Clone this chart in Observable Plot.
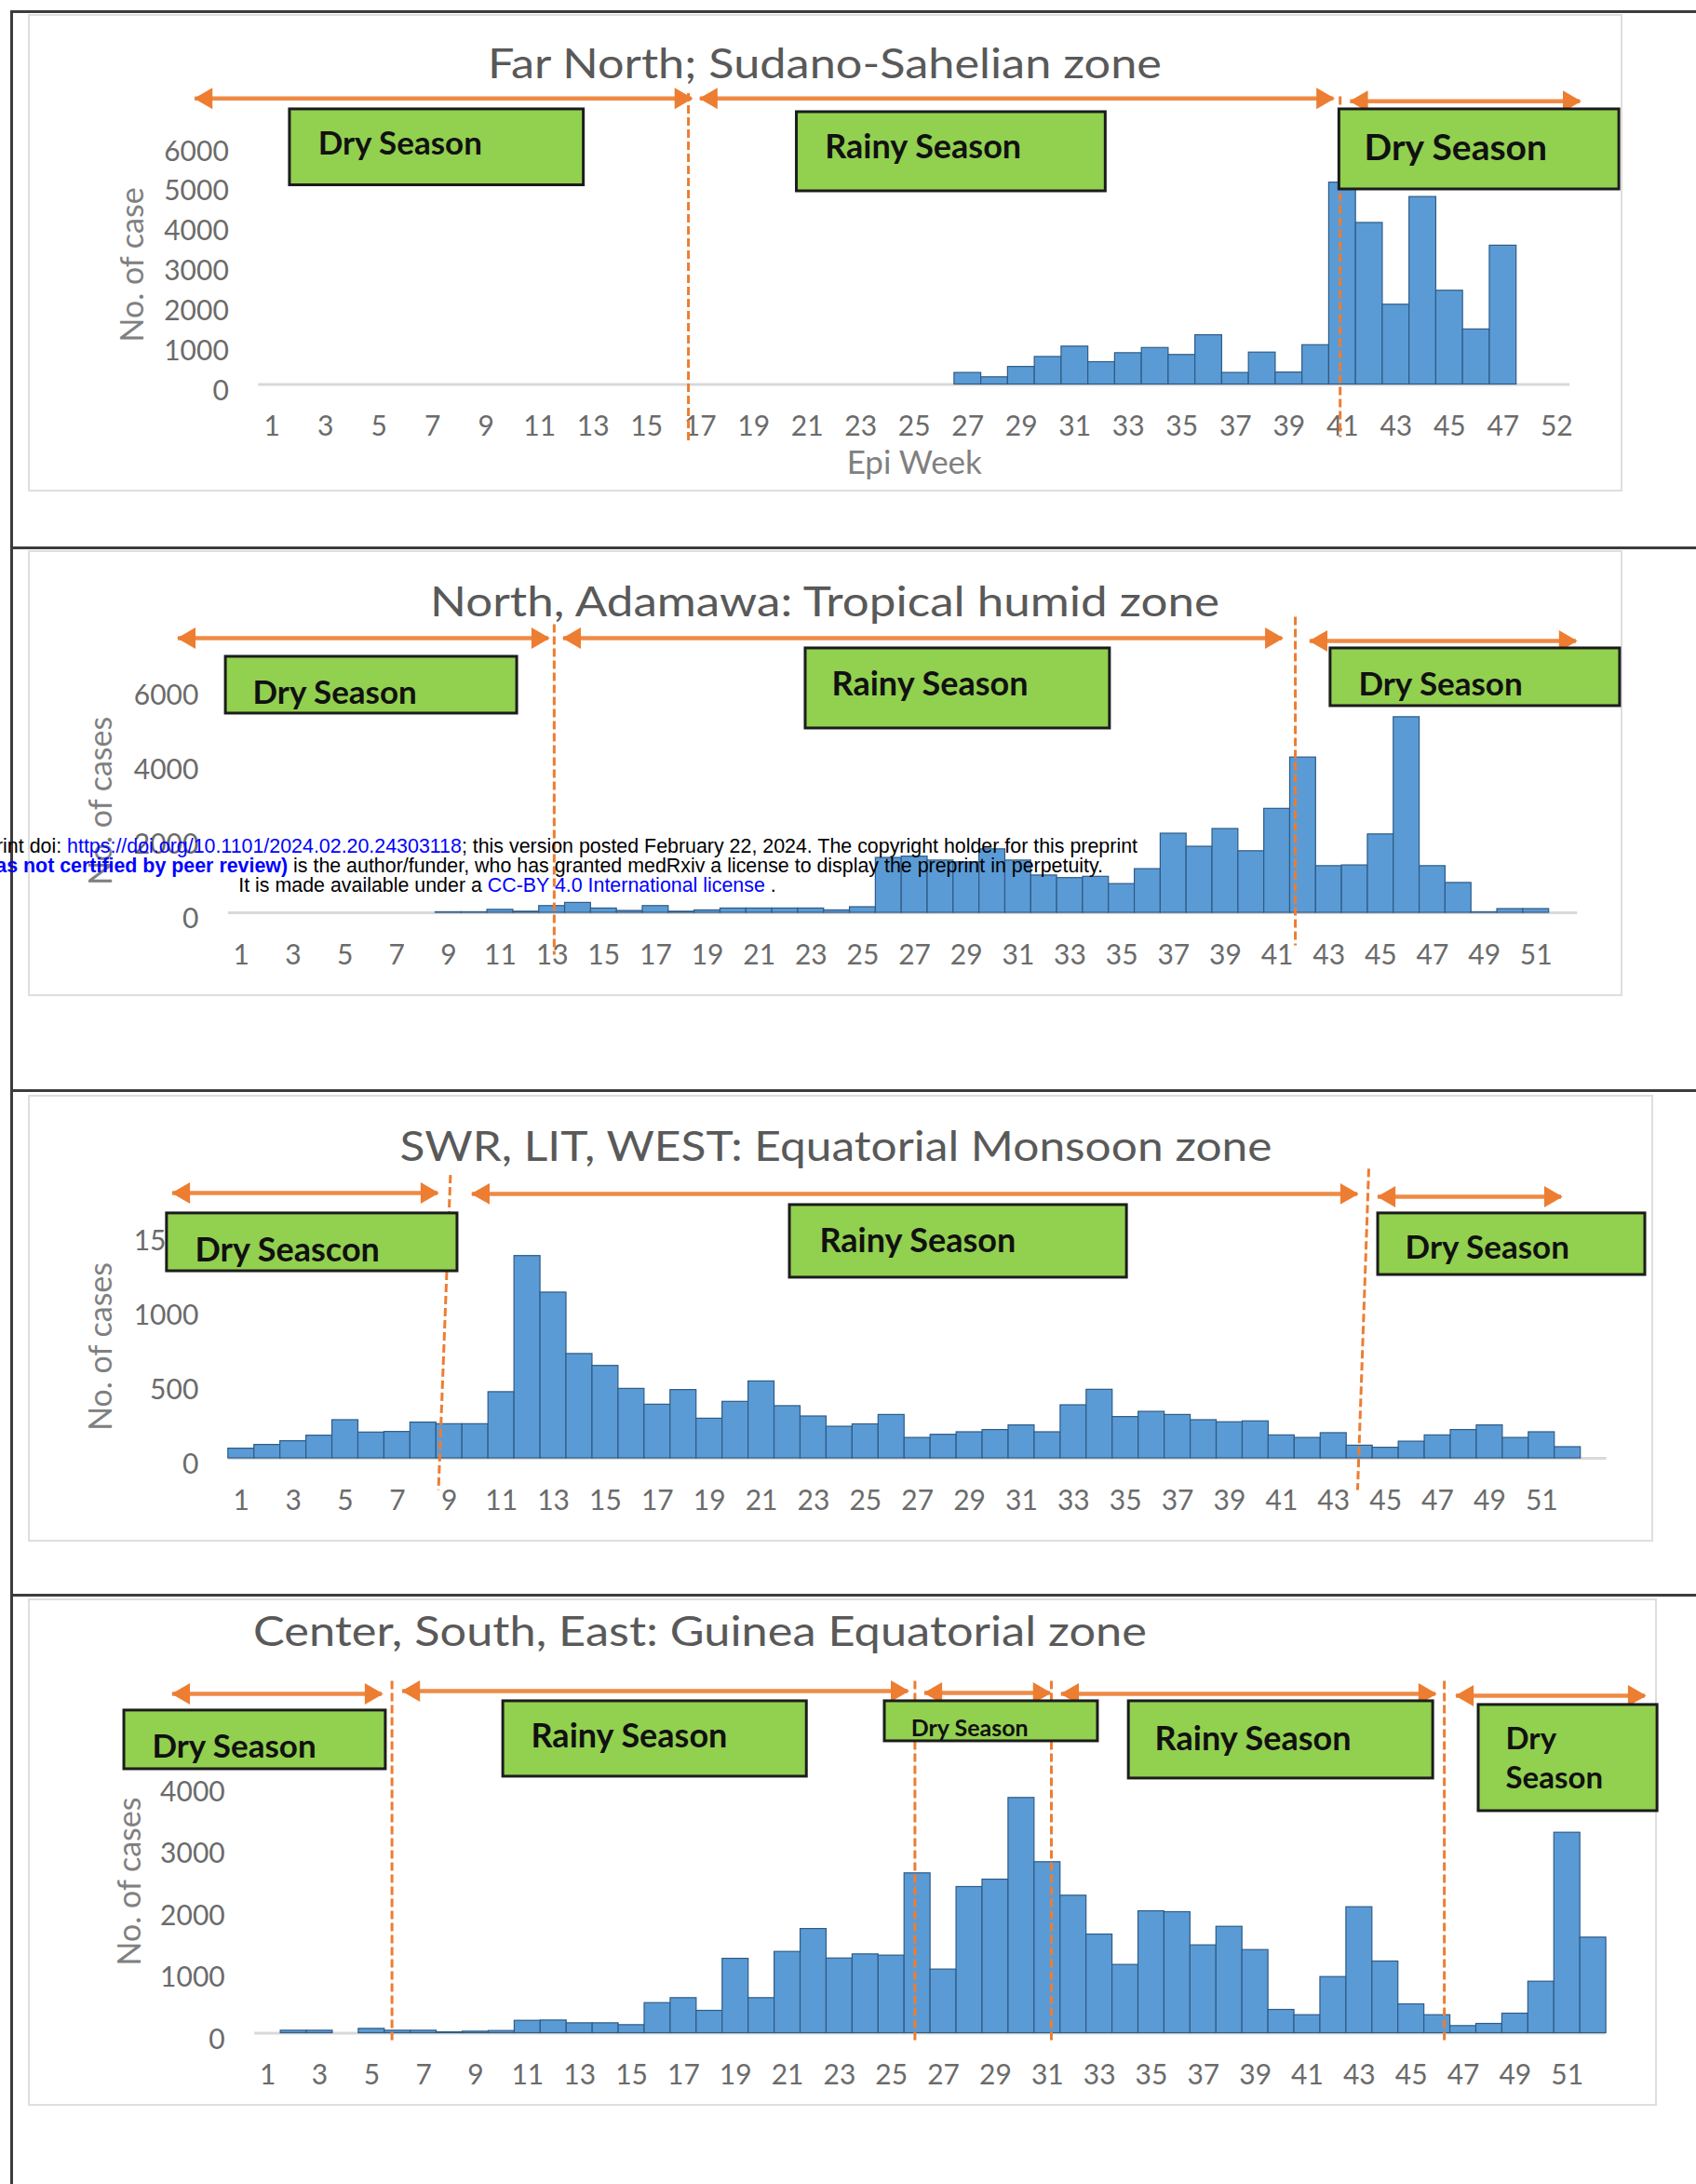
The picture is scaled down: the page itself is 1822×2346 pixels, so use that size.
<!DOCTYPE html>
<html>
<head>
<meta charset="utf-8">
<script src="https://cdn.jsdelivr.net/npm/d3@7"></script>
<script src="https://cdn.jsdelivr.net/npm/@observablehq/plot@0.6"></script>
<style>
html, body { margin: 0; padding: 0; background: #fff; }
#page { position: relative; width: 1822px; height: 2346px; overflow: hidden; background: #fff; font-family: Lato, sans-serif; }
.hline { position: absolute; left: 11px; right: 0; height: 3px; background: #3c3c3c; }
.vline { position: absolute; left: 11px; top: 11px; bottom: 0; width: 3px; background: #3c3c3c; }
.panel { position: absolute; border: 2px solid #dedede; box-sizing: border-box; }
.title { position: absolute; white-space: nowrap; color: #595959; font-family: Lato, sans-serif; font-size: 44px; line-height: 1; }
.wm { position: absolute; width: 2000px; text-align: center; font-family: "Liberation Sans", Arial, sans-serif; font-size: 21.4px; line-height: 21px; color: #000; white-space: nowrap; }
.wm .b { color: #0000ff; }
.wm .bb { color: #0000ff; font-weight: bold; }
</style>
</head>
<body>
<div id="page">
  <div class="vline"></div>
  <div class="hline" style="top:11px"></div>
  <div class="hline" style="top:587px"></div>
  <div class="hline" style="top:1170px"></div>
  <div class="hline" style="top:1712px"></div>
  <div class="panel" style="left:30px;top:15px;width:1713px;height:513px"></div>
  <div class="panel" style="left:30px;top:591px;width:1713px;height:479px"></div>
  <div class="panel" style="left:30px;top:1176px;width:1746px;height:480px"></div>
  <div class="panel" style="left:30px;top:1717px;width:1750px;height:545px"></div>
</div>
<script>
// ---------------- DATA ----------------
// Panel 1: Far North; Sudano-Sahelian zone (categories as printed on the axis)
const farNorthWeeks = [1,2,3,4,5,6,7,8,9,10,11,12,13,14,15,16,17,18,19,20,21,22,23,24,25,26,27,28,29,30,31,32,33,34,35,36,37,38,39,40,41,42,43,44,45,46,47,48,52];
const farNorthCases = [0,0,0,0,0,0,0,0,0,0,0,0,0,0,0,0,0,0,0,0,0,0,0,0,0,0,290,180,440,690,950,560,785,915,740,1235,290,800,300,985,5060,4050,2000,4700,2350,1380,3480,0,0];
const farNorthTickLabels = ["1","3","5","7","9","11","13","15","17","19","21","23","25","27","29","31","33","35","37","39","41","43","45","47","52"];
const farNorthYTicks = [0,1000,2000,3000,4000,5000,6000];

// Weeks 1..52 for the three other zones
const epiWeeks = [1,2,3,4,5,6,7,8,9,10,11,12,13,14,15,16,17,18,19,20,21,22,23,24,25,26,27,28,29,30,31,32,33,34,35,36,37,38,39,40,41,42,43,44,45,46,47,48,49,50,51,52];
const oddWeekTicks = [1,3,5,7,9,11,13,15,17,19,21,23,25,27,29,31,33,35,37,39,41,43,45,47,49,51];

// Panel 2: North, Adamawa: Tropical humid zone
const northCases = [0,0,0,0,0,0,0,0,15,15,80,30,180,265,115,50,180,30,65,115,115,115,115,65,150,1470,1505,1400,1350,1700,1400,1000,930,965,770,1170,2120,1770,2245,1650,2785,4160,1250,1270,2100,5240,1250,800,15,100,100,0];
const northYTicks = [0,2000,4000,6000];

// Panel 3: SWR, LIT, WEST: Equatorial Monsoon zone
const monsoonCases = [65,90,115,152,256,173,177,240,229,229,444,1357,1112,700,620,466,360,458,266,379,516,350,281,212,228,291,137,158,175,190,221,175,356,460,277,312,291,256,242,248,154,137,169,85,71,112,154,190,221,137,175,75];
const monsoonYTicks = [0,500,1000,1500];

// Panel 4: Center, South, East: Guinea Equatorial zone
const guineaCases = [0,40,40,0,70,40,40,15,25,35,200,205,160,160,130,486,566,361,1202,566,1313,1683,1207,1273,1253,2582,1028,2361,2481,3800,2762,2221,1594,1103,1970,1955,1419,1719,1343,376,291,907,2035,1158,466,291,115,150,316,832,3238,1544];
const guineaYTicks = [0,1000,2000,3000,4000];

// Season annotations (in week units / case units of each panel)
const farNorthBounds = [{xt:16.56,yt:7305,xb:16.56,yb:-1482},{xt:40.91,yt:7224,xb:40.91,yb:-1319}];
const farNorthArrows = [{from:-1.87,to:16.69,y:7170},{from:17.0,to:40.67,y:7170},{from:41.3,to:49.88,y:7100}];
const farNorthBoxes = [{x1:1.67,x2:12.65,y1:4994,y2:6897},{x1:20.61,x2:32.15,y1:4843,y2:6827},{x1:40.88,x2:51.34,y1:4890,y2:6897}];
const farNorthLabels = [{text:"Dry Season",x:2.72,y:6033,size:35},{text:"Rainy Season",x:21.66,y:5940,size:36},{text:"Dry Season",x:41.81,y:5917,size:39}];

const northBounds = [{xt:13.08,yt:7731,xb:13.08,yb:-1122},{xt:41.7,yt:7931,xb:41.7,yb:-873}];
const northArrows = [{from:-1.44,to:12.87,y:7357},{from:13.44,to:41.2,y:7357},{from:42.27,to:52.55,y:7282}];
const northBoxes = [{x1:0.40,x2:11.65,y1:5337,y2:6858},{x1:22.79,x2:34.54,y1:4938,y2:7083},{x1:43.06,x2:54.24,y1:5537,y2:7083}];
const northLabels = [{text:"Dry Season",x:1.44,y:5886,size:35},{text:"Rainy Season",x:23.8,y:6110,size:36},{text:"Dry Season",x:44.14,y:6110,size:35}];

const monsoonBounds = [{xt:9.04,yt:1901,xb:8.58,yb:-212},{xt:44.35,yt:1943,xb:43.92,yb:-212}];
const monsoonArrows = [{from:-1.64,to:8.56,y:1780},{from:9.88,to:43.92,y:1774},{from:44.71,to:51.76,y:1755}];
const monsoonBoxes = [{x1:-1.86,x2:9.31,y1:1255,y2:1643},{x1:22.09,x2:35.05,y1:1212,y2:1699},{x1:44.71,x2:54.98,y1:1230,y2:1643}];
const monsoonLabels = [{text:"Dry Seascon",x:-0.78,y:1393,size:36},{text:"Rainy Season",x:23.23,y:1455,size:36},{text:"Dry Season",x:45.75,y:1412,size:35}];

const guineaBounds = [{xt:5.78,yt:5692,xb:5.78,yb:-128},{xt:25.9,yt:5692,xb:25.9,yb:-128},{xt:31.15,yt:5692,xb:31.15,yb:-128},{xt:46.27,yt:5692,xb:46.27,yb:-128}];
const guineaArrows = [{from:-2.66,to:5.40,y:5482},{from:6.19,to:25.64,y:5527},{from:26.28,to:31.11,y:5497},{from:31.54,to:45.94,y:5482},{from:46.73,to:54.0,y:5452}];
const guineaBoxes = [{x1:-4.52,x2:5.54,y1:4264,y2:5212},{x1:10.06,x2:21.74,y1:4144,y2:5362},{x1:24.74,x2:32.94,y1:4715,y2:5362},{x1:34.13,x2:45.84,y1:4114,y2:5362},{x1:47.59,x2:54.47,y1:3587,y2:5302}];
const guineaLabels = [{text:"Dry Season",x:-3.45,y:4625,size:35},{text:"Rainy Season",x:11.13,y:4790,size:36},{text:"Dry Season",x:25.75,y:4911,size:25},{text:"Rainy Season",x:35.13,y:4745,size:36},{text:"Dry",x:48.63,y:4745,size:33},{text:"Season",x:48.63,y:4114,size:33}];

// ---------------- DRAWING ----------------
const page = document.getElementById("page");
const ORANGE = "#ed7d31";

function buildPanel(cfg) {
  const bars = cfg.positions.map((p, i) => ({p, v: cfg.values[i]}));
  const marks = [
    Plot.axisY({ticks: cfg.yTicks, tickSize: 0, tickPadding: 32, dy: 7, label: null, tickFormat: d => String(d), fill: "#6b6b6b"}),
    Plot.axisX({ticks: cfg.xTicks, tickSize: 0, tickPadding: 34, label: null, tickFormat: cfg.tickFormat, fill: "#6b6b6b"}),
    Plot.ruleY([0], {x1: cfg.baseFrom, x2: cfg.baseTo, stroke: "#d9d9d9", strokeWidth: 3}),
    Plot.rectY(bars, {x1: d => d.p - 0.5, x2: d => d.p + 0.5, y: "v", fill: "#5b9bd5", stroke: "#2e5b86", strokeWidth: 1.2}),
    Plot.link(cfg.bounds, {x1: "xt", y1: "yt", x2: "xb", y2: "yb", stroke: ORANGE, strokeWidth: 3, strokeDasharray: "9,4"}),
    Plot.ruleY(cfg.arrows, {y: "y", x1: "from", x2: "to", stroke: ORANGE, strokeWidth: 4.5, strokeOpacity: 0.9}),
    Plot.dot(cfg.arrows, {x: "from", y: "y", symbol: "triangle", rotate: -90, r: 8.5, fill: ORANGE, stroke: "none", dx: 12}),
    Plot.dot(cfg.arrows, {x: "to", y: "y", symbol: "triangle", rotate: 90, r: 8.5, fill: ORANGE, stroke: "none", dx: -12}),
    Plot.rect(cfg.boxes, {x1: "x1", x2: "x2", y1: "y1", y2: "y2", fill: "#92d050", stroke: "#1c1c1c", strokeWidth: 3}),
    Plot.text(cfg.labels, {x: "x", y: "y", text: "text", textAnchor: "start", fontSize: "size", fontWeight: "bold", fontFamily: "Lato, sans-serif", fill: "#111"}),
    Plot.text([cfg.yLabel], {frameAnchor: "left", textAnchor: "middle", rotate: -90, dx: cfg.yLabelDx, dy: cfg.yLabelDy, fontSize: 34, fill: "#808080", fontFamily: "Lato, sans-serif"})
  ];
  if (cfg.xLabel) {
    marks.push(Plot.text([cfg.xLabel], {frameAnchor: "bottom", textAnchor: "middle", dy: cfg.xLabelDy, lineAnchor: "middle", fontSize: 35, fill: "#808080", fontFamily: "Lato, sans-serif"}));
  }
  const svg = Plot.plot({
    width: 1822, height: cfg.height,
    marginLeft: cfg.mL, marginRight: cfg.mR, marginTop: cfg.mT, marginBottom: cfg.mB,
    x: {type: "linear", domain: cfg.xDomain},
    y: {type: "linear", domain: cfg.yDomain},
    style: {fontFamily: "Lato, sans-serif", fontSize: "30px", color: "#6b6b6b", background: "transparent", overflow: "visible", maxWidth: "none"},
    marks
  });
  svg.style.position = "absolute";
  svg.style.left = "0px";
  svg.style.top = cfg.top + "px";
  page.appendChild(svg);
}

buildPanel({
  top: 15, height: 513, mL: 277.3, mR: 135.8, mT: 140.4, mB: 115.5,
  xDomain: [0.5, 49.5], yDomain: [0, 6000],
  positions: farNorthWeeks.map((w, i) => i + 1), values: farNorthCases,
  xTicks: farNorthTickLabels.map((t, i) => 2 * i + 1),
  tickFormat: p => String(farNorthWeeks[p - 1]),
  yTicks: farNorthYTicks, baseFrom: 0.5, baseTo: 49.5,
  bounds: farNorthBounds, arrows: farNorthArrows, boxes: farNorthBoxes, labels: farNorthLabels,
  yLabel: "No. of case", yLabelDx: -135, yLabelDy: 0,
  xLabel: "Epi Week", xLabelDy: 84.5
});

buildPanel({
  top: 591, height: 479, mL: 244.9, mR: 130.5, mT: 148.4, mB: 90,
  xDomain: [0.5, 52.5], yDomain: [0, 6000],
  positions: epiWeeks, values: northCases,
  xTicks: oddWeekTicks, tickFormat: d => String(d),
  yTicks: northYTicks, baseFrom: 0.5, baseTo: 52.6,
  bounds: northBounds, arrows: northArrows, boxes: northBoxes, labels: northLabels,
  yLabel: "No. of cases", yLabelDx: -136, yLabelDy: 0
});

buildPanel({
  top: 1176, height: 480, mL: 244.8, mR: 124.3, mT: 149.8, mB: 90,
  xDomain: [0.5, 52.5], yDomain: [0, 1500],
  positions: epiWeeks, values: monsoonCases,
  xTicks: oddWeekTicks, tickFormat: d => String(d),
  yTicks: monsoonYTicks, baseFrom: 0.5, baseTo: 53.5,
  bounds: monsoonBounds, arrows: monsoonArrows, boxes: monsoonBoxes, labels: monsoonLabels,
  yLabel: "No. of cases", yLabelDx: -136, yLabelDy: 0
});

buildPanel({
  top: 1717, height: 545, mL: 273.2, mR: 96.9, mT: 200.5, mB: 78.5,
  xDomain: [0.5, 52.5], yDomain: [0, 4000],
  positions: epiWeeks, values: guineaCases,
  xTicks: oddWeekTicks, tickFormat: d => String(d),
  yTicks: guineaYTicks, baseFrom: 0.5, baseTo: 52.5,
  bounds: guineaBounds, arrows: guineaArrows, boxes: guineaBoxes, labels: guineaLabels,
  yLabel: "No. of cases", yLabelDx: -134, yLabelDy: -30
});

// Panel titles
const titles = [
  {text: "Far North; Sudano-Sahelian zone", cx: 886, cy: 67, w: 724, anchor: "middle"},
  {text: "North, Adamawa: Tropical humid zone", cx: 886, cy: 645, w: 848, anchor: "middle"},
  {text: "SWR, LIT, WEST: Equatorial Monsoon zone", cx: 898, cy: 1230, w: 937, anchor: "middle"},
  {text: "Center, South, East: Guinea Equatorial zone", cx: 272, cy: 1751, w: 960, anchor: "start"}
];
titles.forEach(t => {
  const d = document.createElement("div");
  d.className = "title";
  d.textContent = t.text;
  page.appendChild(d);
  const measured = d.getBoundingClientRect().width;
  const k = t.w / measured;
  d.style.top = t.cy + "px";
  d.style.left = t.cx + "px";
  d.style.transformOrigin = "0 0";
  if (t.anchor === "middle") {
    d.style.transform = `translate(${-t.w / 2}px, -50%) scaleX(${k})`;
  } else {
    d.style.transform = `translate(0, -50%) scaleX(${k})`;
  }
});

// medRxiv stamp overlaid on the page (one centred line each)
const stampLines = [
  {cx: 543, top: 899, html: 'medRxiv preprint doi: <span class="b">https://doi.org/10.1101/2024.02.20.24303118</span>; this version posted February 22, 2024. The copyright holder for this preprint'},
  {cx: 545, top: 920, html: '<span class="bb">(which was not certified by peer review)</span> is the author/funder, who has granted medRxiv a license to display the preprint in perpetuity.'},
  {cx: 545, top: 941, html: 'It is made available under a <span class="b">CC-BY 4.0 International license</span> .'}
];
stampLines.forEach(l => {
  const d = document.createElement("div");
  d.className = "wm";
  d.style.left = (l.cx - 1000) + "px";
  d.style.top = l.top + "px";
  d.innerHTML = l.html;
  page.appendChild(d);
});
</script>
</body>
</html>
